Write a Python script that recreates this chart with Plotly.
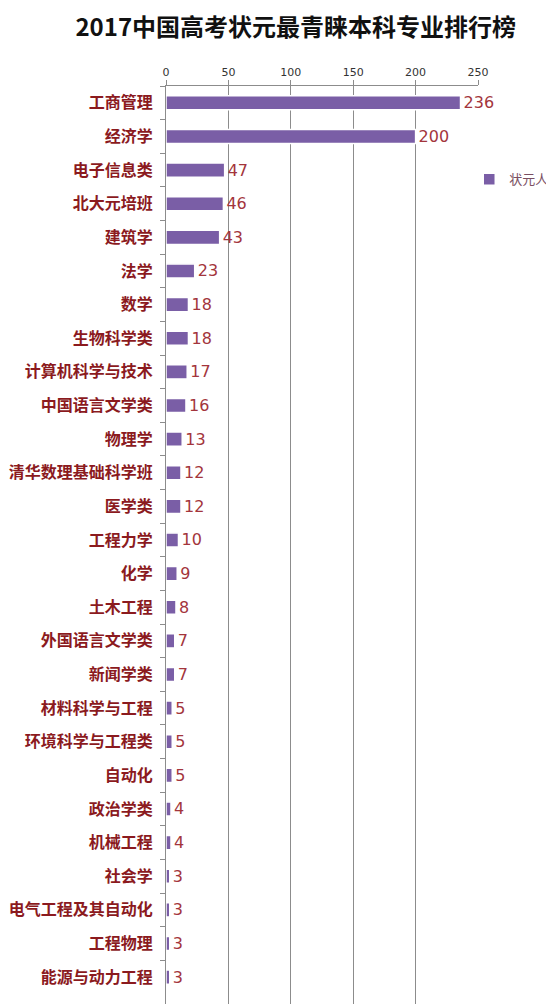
import plotly.graph_objects as go

categories = ["工商管理", "经济学", "电子信息类", "北大元培班", "建筑学", "法学", "数学",
              "生物科学类", "计算机科学与技术", "中国语言文学类", "物理学", "清华数理基础科学班",
              "医学类", "工程力学", "化学", "土木工程", "外国语言文学类", "新闻学类",
              "材料科学与工程", "环境科学与工程类", "自动化", "政治学类", "机械工程",
              "社会学", "电气工程及其自动化", "工程物理", "能源与动力工程"]
values = [236, 200, 47, 46, 43, 23, 18, 18, 17, 16, 13, 12, 12, 10, 9, 8, 7, 7,
          5, 5, 5, 4, 4, 3, 3, 3, 3]
x_ticks = [0, 50, 100, 150, 200, 250]
series_name = "状元人"
title_text = "2017中国高考状元最青睐本科专业排行榜"

fig = go.Figure()
fig.add_trace(go.Bar(
    x=values, y=categories, orientation="h", name=series_name,
    marker=dict(color="#7a5ea6", line=dict(color="#ffffff", width=1.5)),
    text=[str(v) for v in values], textposition="outside", cliponaxis=False,
    constraintext="none",
    textfont=dict(family="DejaVu Sans", size=16, color="#a3353c"),
    showlegend=True,
))

fig.update_layout(
    width=546, height=996,
    margin=dict(l=158, r=76, t=78, b=0, autoexpand=False),
    paper_bgcolor="white", plot_bgcolor="white",
    bargap=0.58,
    title=dict(text="<b>" + title_text + "</b>", x=0.527, xanchor="center", y=0.980, yanchor="middle",
               font=dict(family="Noto Sans CJK SC", size=24, color="#111111")),
    font=dict(family="Noto Sans CJK SC"),
    showlegend=True,
    legend=dict(x=0.972, xanchor="left", y=0.8985, yanchor="middle",
                font=dict(family="Noto Sans CJK SC", size=13, color="#7a4f62"),
                bgcolor="rgba(0,0,0,0)", itemwidth=30, tracegroupgap=0),
)
fig.update_xaxes(
    side="top", range=[0, 250], tickvals=x_ticks, ticktext=[str(t) for t in x_ticks],
    showgrid=True, gridcolor="#8c8c8c", gridwidth=1, automargin=False,
    showline=True, linecolor="#8c8c8c", ticks="outside", ticklen=5, tickcolor="#8c8c8c",
    tickfont=dict(family="DejaVu Sans", size=11, color="#333333"), zeroline=False,
)
fig.update_yaxes(
    type="category", categoryorder="array", categoryarray=categories,
    range=[len(categories) - 0.2, -0.5], automargin=False,
    showline=True, linecolor="#8c8c8c", ticks="outside", ticklen=5, tickcolor="#8c8c8c",
    tickson="boundaries", showgrid=False, ticklabelstandoff=9,
    tickfont=dict(family="Noto Sans CJK SC", size=16, color="#8b1a1e", weight="bold"),
)

fig.write_html("out.html")
